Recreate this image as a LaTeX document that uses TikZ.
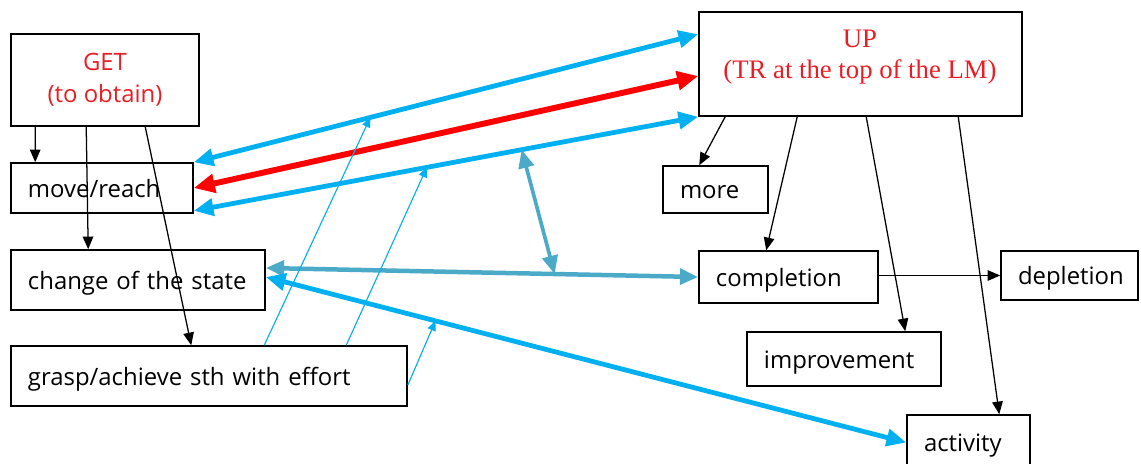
\documentclass[tikz,border=0pt]{standalone}
\usepackage{fontspec}
\setmainfont{Open Sans}
\newfontfamily\serifup{Liberation Serif}
\usepackage{xcolor}
\usetikzlibrary{arrows.meta}

\definecolor{linkblue}{RGB}{0,176,240}
\definecolor{linkteal}{RGB}{75,170,200}
\definecolor{linkred}{RGB}{255,0,0}
\definecolor{titlered}{RGB}{236,28,36}

\begin{document}
\begin{tikzpicture}[
    x=0.025cm, y=-0.025cm,
    frame/.style={rectangle, draw, line width=1.1pt, inner ysep=0pt, font=\fontsize{17}{22.7}\selectfont},
    box/.style={frame, text width=#1, align=left, inner xsep=0.425cm, text height=16pt, text depth=3pt},
    arrow/.style={-{Triangle[length=9pt,width=7.5pt]}, line width=0.9pt},
    bluelink/.style={{Triangle[length=14pt,width=12pt]}-{Triangle[length=14pt,width=12pt]}, line width=3.4pt, draw=linkblue},
    redlink/.style={{Triangle[length=15pt,width=13pt]}-{Triangle[length=15pt,width=13pt]}, line width=4.2pt, draw=linkred},
    teallink/.style={{Triangle[length=13pt,width=11pt]}-{Triangle[length=13pt,width=11pt]}, line width=3.2pt, draw=linkteal},
    pointer/.style={-{Triangle[length=7pt,width=6pt]}, line width=0.8pt, draw=linkblue}
]
\useasboundingbox (0,0) rectangle (1141,463);
\clip (0,0) rectangle (1141,463);

% GET and its senses
\node[frame, align=center, minimum width=4.7cm, minimum height=2.3cm, text=titlered] (get) at (105,80) {GET\\(to obtain)};
\node[box=3.7cm, minimum height=1.25cm] (move) at (102,188) {move/reach};
\node[box=5.5cm, minimum height=1.5cm] (chg) at (138,280) {change of the state};
\node[box=9.05cm, minimum height=1.5cm] (grasp) at (209,376) {grasp/achieve sth with effort};

% UP and its senses
\node[frame, minimum width=8.075cm, minimum height=2.6cm] (up) at (860.5,64) {};
\node[align=center, text=titlered, font=\serifup\fontsize{19}{22.5}\selectfont] (uptext) at (860,57) {UP\\(TR at the top of the LM)};
\node[box=1.775cm, minimum height=1.175cm] (more) at (715.5,189.5) {more};
\node[box=3.625cm, minimum height=1.3cm] (comp) at (788.5,277) {completion};
\node[box=2.575cm, minimum height=1.225cm] (dep) at (1069.5,275.5) {depletion};
\node[box=4cm, minimum height=1.35cm] (impr) at (844,359) {improvement};
\node[box=2.225cm, minimum height=1.375cm] (act) at (968.5,442.5) {activity};

% Arrows inside each group
\draw[arrow] ([xshift=0.625cm]get.south west) -- ([xshift=0.625cm]move.north west);
\draw[arrow] ([xshift=1.9cm]get.south west) -- ([xshift=1.95cm]chg.north west);
\draw[arrow] ([xshift=3.375cm]get.south west) -- ([xshift=4.525cm]grasp.north west);
\draw[arrow] ([xshift=0.675cm]up.south west) -- ([xshift=0.925cm]more.north west);
\draw[arrow] ([xshift=2.475cm]up.south west) -- ([xshift=1.7cm]comp.north west);
\draw[arrow] ([xshift=4.2cm]up.south west) -- ([xshift=3.975cm]impr.north west);
\draw[arrow] ([xshift=6.5cm]up.south west) -- ([xshift=2.325cm]act.north west);
\draw[arrow] (comp.east |- dep) -- (dep.west);

% Links between GET and UP
\draw[bluelink] (move.north east) -- coordinate[pos=0.35] (toplink) ([yshift=-0.575cm]up.north west);
\draw[redlink] (move.east) -- ([yshift=-0.3cm]up.west);
\draw[bluelink] ([yshift=0.075cm]move.south east) -- coordinate[pos=0.462] (lowlink) coordinate[pos=0.65] (lowmid) (up.south west);
\draw[teallink] ([yshift=0.3cm]chg.east) -- coordinate[pos=0.668] (statemid) (comp.west);
\draw[bluelink] ([yshift=0.075cm]chg.east) -- coordinate[pos=0.265] (actlink) (act.west);
\draw[teallink, line width=2.6pt] (lowmid) -- (statemid);

% grasp/achieve feeds the links
\draw[pointer] ([xshift=6.35cm]grasp.north west) -- (toplink);
\draw[pointer] ([xshift=8.4cm]grasp.north west) -- (lowlink);
\draw[pointer] ([yshift=-0.225cm]grasp.east) -- (actlink);
\end{tikzpicture}
\end{document}
